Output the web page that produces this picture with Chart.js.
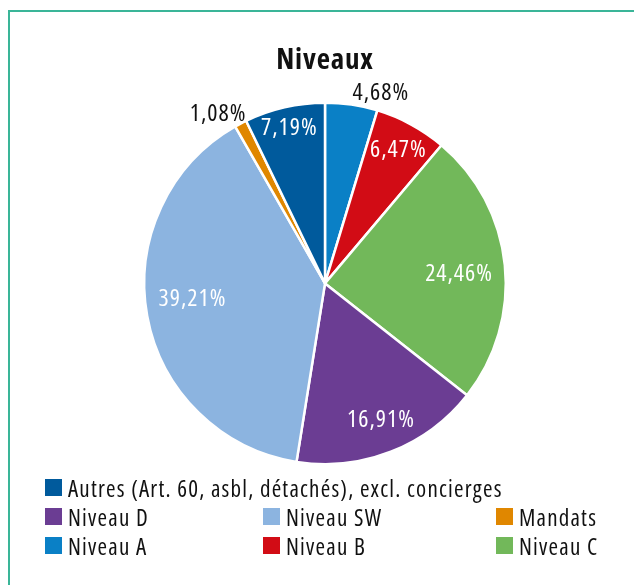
<!DOCTYPE html>
<html>
<head>
<meta charset="utf-8">
<script src="https://cdn.jsdelivr.net/npm/chart.js@4"></script>
<style>
  body { margin: 0; background: #fff; }
  #frame {
    position: absolute; left: 8px; top: 10px; width: 626px; height: 575px;
    border-top: 2px solid #3ab598; border-left: 2px solid #3ab598;
  }
  #wrap { position: absolute; left: 0; top: 0; width: 634px; height: 585px; }
  #legend {
    position: absolute; left: 45px; top: 473px; width: 589px;
    font-family: 'Open Sans', sans-serif; font-stretch: 75%; letter-spacing: 1.2px;
    font-size: 23px; color: #111;
  }
  .row { position: relative; height: 29px; }
  .item { position: absolute; top: 0; height: 29px; display: flex; align-items: center; white-space: nowrap; }
  .box { width: 17px; height: 17px; margin-right: 6px; flex: none; }
</style>
</head>
<body>
<div id="frame"></div>
<div id="wrap"><canvas id="pieChart"></canvas></div>
<div id="legend"></div>
<script>
// Data
const categories = ['Niveau A', 'Niveau B', 'Niveau C', 'Niveau D', 'Niveau SW', 'Mandats', 'Autres (Art. 60, asbl, détachés), excl. concierges'];
const shares = [4.68, 6.47, 24.46, 16.91, 39.21, 1.08, 7.19];
const colors = ['#0a80c6', '#d20c15', '#72b85a', '#6b3d93', '#8cb4e0', '#e08700', '#005a9c'];
// legend rows (indices into categories)
const legendRows = [[6], [3, 4, 5], [0, 1, 2]];

// label placement: fraction of radius, small pixel nudge, outside (black) or inside (white)
const labelRadius = [1.09, 0.85, 0.74, 0.82, 0.74, 1.125, 0.88];
const labelNudge = [[27, 5], [0, 2], [1, 4], [2, -1], [-1, -8], [-12, 11], [0, 0]];
const labelOutside = [true, false, false, false, false, true, false];

const fontFamily = "'Open Sans', sans-serif";

const fmt = v => v.toFixed(2).replace('.', ',') + '%';

// condensed text with a bit of tracking, closer to the original typeface
const textStyle = {
  id: 'textStyle',
  beforeDraw(chart) {
    chart.ctx.fontStretch = 'condensed';
    chart.ctx.letterSpacing = '0.8px';
  },
  beforeDatasetsDraw(chart) {
    chart.ctx.letterSpacing = '0px';
  },
};

// draw the percentage labels on the slices
const sliceLabels = {
  id: 'sliceLabels',
  afterDatasetsDraw(chart) {
    const ctx = chart.ctx;
    const meta = chart.getDatasetMeta(0);
    ctx.save();
    ctx.font = 'condensed 24px ' + fontFamily;
    ctx.fontStretch = 'condensed';
    ctx.letterSpacing = '1px';
    ctx.textAlign = 'center';
    ctx.textBaseline = 'middle';
    meta.data.forEach((arc, i) => {
      const mid = (arc.startAngle + arc.endAngle) / 2;
      const r = arc.outerRadius * labelRadius[i];
      const x = arc.x + Math.cos(mid) * r + labelNudge[i][0];
      const y = arc.y + Math.sin(mid) * r + labelNudge[i][1];
      ctx.fillStyle = labelOutside[i] ? '#111' : '#fff';
      ctx.fillText(fmt(shares[i]), x, y);
    });
    ctx.restore();
  },
};

const createPieChart = () => {
  const canvas = document.getElementById('pieChart');
  new Chart(canvas, {
    type: 'pie',
    data: {
      labels: categories,
      datasets: [
        {
          data: shares,
          backgroundColor: colors,
          borderColor: '#fff',
          borderWidth: 2.5,
        },
      ],
    },
    options: {
      responsive: true,
      maintainAspectRatio: false,
      animation: false,
      layout: {
        padding: { left: 143, right: 127, top: 0, bottom: 119 },
      },
      plugins: {
        legend: { display: false },
        tooltip: { enabled: false },
        title: {
          display: true,
          text: 'Niveaux',
          color: '#111',
          font: { family: fontFamily, size: 29, weight: 'bold condensed' },
          padding: { top: 43, bottom: 23 },
        },
      },
    },
    plugins: [textStyle, sliceLabels],
  });
};

// HTML legend in the original's grid
const buildLegend = () => {
  const legend = document.getElementById('legend');
  const colX = [0, 218, 451];
  legendRows.forEach(row => {
    const div = document.createElement('div');
    div.className = 'row';
    row.forEach((idx, c) => {
      const item = document.createElement('div');
      item.className = 'item';
      item.style.left = colX[c] + 'px';
      const box = document.createElement('span');
      box.className = 'box';
      box.style.background = colors[idx];
      const txt = document.createElement('span');
      txt.textContent = categories[idx];
      item.appendChild(box);
      item.appendChild(txt);
      div.appendChild(item);
    });
    legend.appendChild(div);
  });
};

buildLegend();
createPieChart();
</script>
</body>
</html>
